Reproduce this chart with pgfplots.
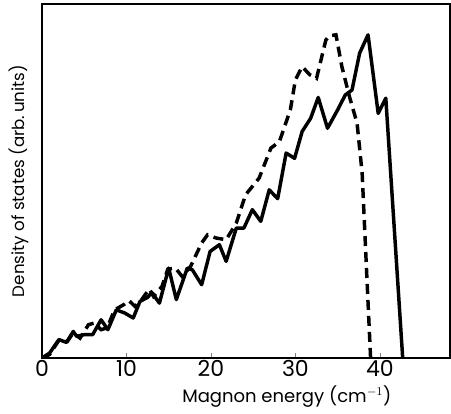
\documentclass[border=0pt]{standalone}
\usepackage{fontspec}
\setmainfont{Poppins}
\usepackage{pgfplots}
\pgfplotsset{compat=1.18}
\begin{document}
\begin{tikzpicture}
\begin{axis}[
  scale only axis,
  width=306pt, height=265.5pt,
  xmin=0, xmax=48.3, ymin=0, ymax=100,
  axis line style={line width=0.9pt},
  xtick={0,10,20,30,40},
  ytick=\empty,
  xtick pos=bottom,
  tick align=inside,
  major tick length=4pt,
  /pgf/number format/assume math mode=true,
  tick label style={font=\fontsize{16.5}{18}\selectfont},
  xticklabel style={yshift=1.5pt},
  xlabel={Magnon energy (cm$^{-1}$)},
  ylabel={Density of states (arb.\,units)},
  xlabel style={font=\fontsize{13.5}{16}\selectfont, at={(rel axis cs:0.6,0)}, anchor=north, yshift=-17pt},
  ylabel style={font=\fontsize{12.5}{15}\selectfont, at={(axis description cs:-0.022,0.5)}, anchor=south},
  clip=true,
]
\addplot[black, line width=2.6pt, line join=round] coordinates {
(0,0) (0.9,1.4) (2.0,5.2) (2.9,4.4) (3.7,7.5) (4.1,6.1) (5.0,6.6) (6.0,6.6)
(7.0,10.8) (7.8,8.0) (8.8,13.6) (9.8,12.7) (10.8,11.3) (11.6,16.0) (12.5,17.1)
(13.0,18.5) (13.9,15.5) (15.0,25.4) (15.9,16.5) (17.2,25.4) (17.8,24.9)
(18.9,20.7) (19.9,30.1) (21.0,32.0) (21.8,27.3) (23.0,36.7) (23.9,36.7)
(24.9,41.9) (25.9,38.6) (26.9,47.5) (27.9,45.0) (28.9,57.9) (29.9,56.4)
(30.8,64.0) (31.8,67.7) (32.7,73.6) (33.8,64.9) (35.0,70.1) (35.9,74.3)
(36.7,75.7) (37.6,86.1) (38.6,91.3) (39.8,69.1) (40.7,73.4) (42.7,0)
};
\addplot[black, line width=2.6pt, dash pattern=on 7.5pt off 4.5pt] coordinates {
(0,0) (0.9,1.0) (2.0,5.0) (3.0,4.7) (3.7,7.1) (4.5,5.6) (5.5,9.4) (6.2,9.9)
(7.0,8.0) (7.7,8.5) (8.6,13.6) (9.7,15.1) (10.3,16.2) (11.0,14.6) (11.8,16.5)
(12.7,19.5) (13.2,17.4) (14.2,20.2) (14.9,25.1) (15.8,25.4) (16.6,23.0)
(17.6,25.9) (18.9,32.5) (19.6,34.8) (20.6,33.9) (21.8,33.4) (23.0,38.1)
(24.1,46.1) (25.7,50.8) (27.1,59.3) (28.1,61.1) (29.4,70.1) (30.0,78.6)
(30.8,82.3) (31.7,80.0) (32.5,79.0) (33.6,89.8) (34.0,91.0) (34.8,91.3)
(35.5,82.3) (36.4,73.8) (37.3,66.3) (37.9,52.2) (38.4,25.9) (38.9,0)
};
\end{axis}
\pgfresetboundingbox
\path ([xshift=-31.5pt,yshift=-42pt]current axis.south west) rectangle ([xshift=0.75pt,yshift=3pt]current axis.north east);
\end{tikzpicture}
\end{document}
